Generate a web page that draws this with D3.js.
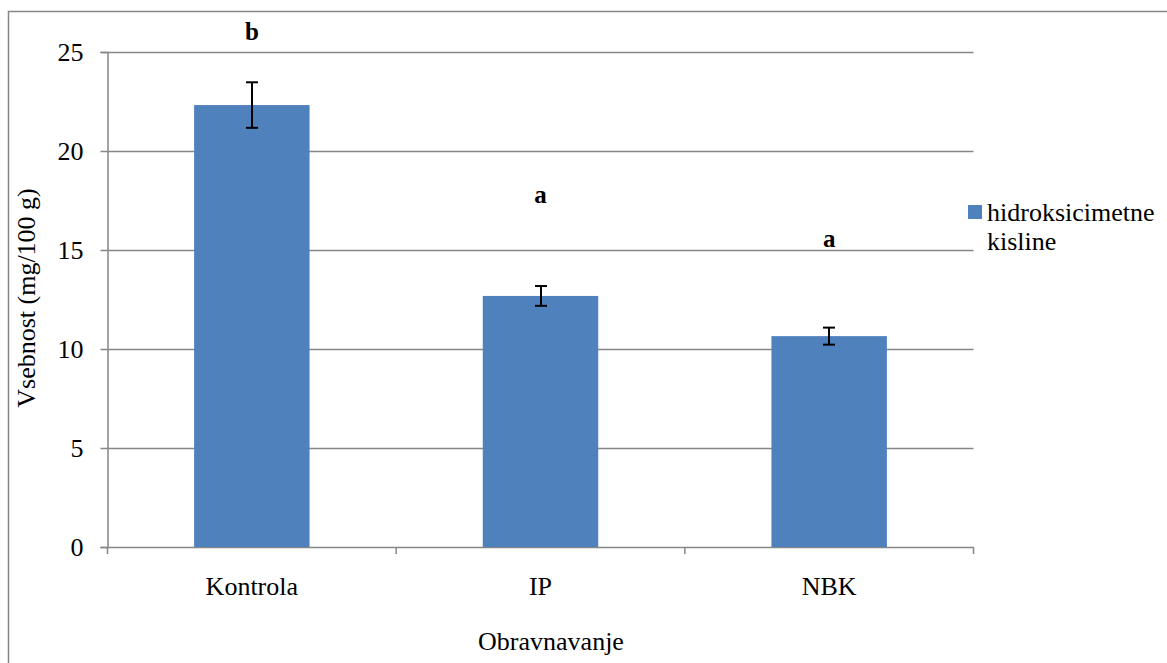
<!DOCTYPE html>
<html><head><meta charset="utf-8">
<script src="https://cdn.jsdelivr.net/npm/d3@7"></script>
<style>body{margin:0;background:#fff}svg{display:block}</style>
</head><body>
<script>
const categories = ["Kontrola", "IP", "NBK"];
const values = [22.32, 12.68, 10.65];
const errors = [1.15, 0.5, 0.43];
const letters = ["b", "a", "a"];
const letterY = [25.6, 17.35, 15.15];
const yTicks = [0, 5, 10, 15, 20, 25];
const seriesName = ["hidroksicimetne", "kisline"];

(function(){
const W = 1167, H = 663;
const FONT = "Liberation Serif";
const FS = 26;
const svg = d3.select("body").append("svg").attr("width", W).attr("height", H)
  .attr("font-family", FONT);
const pL = 107.5, pR = 973.5, pT = 52, pB = 547;
const x = d3.scaleBand().domain(categories).range([pL, pR]).paddingInner(0.6).paddingOuter(0.3);
const y = d3.scaleLinear().domain([0, 25]).range([pB, pT]);
const grey = "#868686";

// outer border
svg.append("path").attr("d", `M8.5,${H+2}V11.5H${W+2}`).attr("fill","none").attr("stroke",grey).attr("stroke-width",1.5);

// gridlines
svg.append("g").selectAll("line").data(yTicks.filter(d=>d>0)).join("line")
  .attr("x1", pL).attr("x2", pR).attr("y1", d=>Math.round(y(d))+0.5).attr("y2", d=>Math.round(y(d))+0.5)
  .attr("stroke", grey).attr("stroke-width", 1.5);

// y axis
const yAxis = d3.axisLeft(y).tickValues(yTicks).tickSize(7).tickPadding(17).tickFormat(d3.format("d"));
const gy = svg.append("g").attr("transform", `translate(${pL},0)`).call(yAxis)
  .attr("font-family", FONT).attr("font-size", FS);
gy.select(".domain").attr("stroke", grey).attr("stroke-width", 1.5);
gy.selectAll(".tick line").attr("stroke", grey).attr("stroke-width", 1.5);
gy.selectAll(".tick text").attr("font-size", FS).attr("font-family", FONT).attr("fill","#000");

// x axis
const gx = svg.append("g").attr("transform", `translate(0,${pB})`);
gx.append("line").attr("x1", pL).attr("x2", pR).attr("y1", 0.5).attr("y2", 0.5).attr("stroke", grey).attr("stroke-width", 1.5);
const step = (pR-pL)/categories.length;
gx.selectAll(".xt").data(d3.range(categories.length+1)).join("line")
  .attr("x1", i=>pL+i*step).attr("x2", i=>pL+i*step).attr("y1",0).attr("y2",7)
  .attr("stroke", grey).attr("stroke-width", 1.5);
gx.selectAll(".xl").data(categories).join("text")
  .attr("x", d=>x(d)+x.bandwidth()/2).attr("y", 48).attr("text-anchor","middle")
  .attr("font-family", FONT).attr("font-size",FS).text(d=>d);

// bars
svg.append("g").selectAll("rect").data(categories).join("rect")
  .attr("x", d=>x(d)).attr("width", x.bandwidth())
  .attr("y", (d,i)=>y(values[i])).attr("height", (d,i)=>y(0)-y(values[i]))
  .attr("fill", "#4f81bd");

// error bars
const eb = svg.append("g").attr("stroke","#000").attr("stroke-width",2);
categories.forEach((c,i)=>{
  const cx = Math.round(x(c)+x.bandwidth()/2);
  const y1 = y(values[i]+errors[i]), y0 = y(values[i]-errors[i]);
  eb.append("line").attr("x1",cx).attr("x2",cx).attr("y1",y1).attr("y2",y0);
  eb.append("line").attr("x1",cx-6).attr("x2",cx+6).attr("y1",y1).attr("y2",y1);
  eb.append("line").attr("x1",cx-6).attr("x2",cx+6).attr("y1",y0).attr("y2",y0);
});

// letters
svg.append("g").selectAll("text").data(categories).join("text")
  .attr("x", d=>x(d)+x.bandwidth()/2).attr("y",(d,i)=>y(letterY[i]))
  .attr("text-anchor","middle").attr("font-family", FONT).attr("font-size",25).attr("font-weight","bold").text((d,i)=>letters[i]);

// axis titles
svg.append("text").attr("transform","translate(35,298) rotate(-90)").attr("text-anchor","middle")
  .attr("font-family", FONT).attr("font-size",FS).text("Vsebnost (mg/100 g)");
svg.append("text").attr("x",551).attr("y",650).attr("text-anchor","middle")
  .attr("font-family", FONT).attr("font-size",FS).text("Obravnavanje");

// legend
svg.append("rect").attr("x",968).attr("y",205).attr("width",14).attr("height",14).attr("fill","#4f81bd");
svg.append("text").attr("x",987).attr("y",221).attr("font-family", FONT).attr("font-size",FS).text(seriesName[0]);
svg.append("text").attr("x",987).attr("y",250).attr("font-family", FONT).attr("font-size",FS).text(seriesName[1]);
})();
</script>
</body></html>
